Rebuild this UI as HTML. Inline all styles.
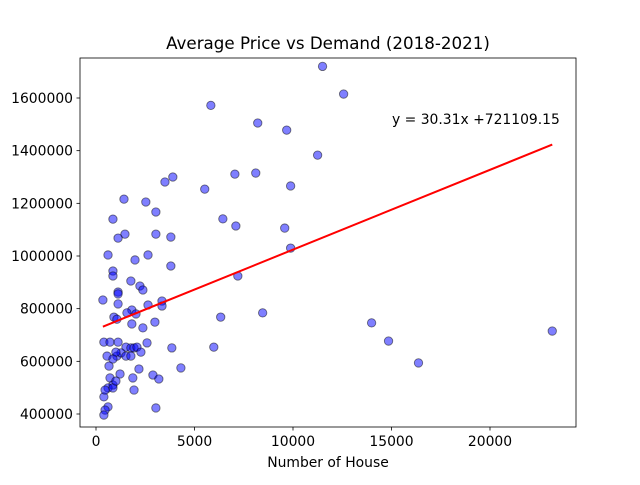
<!DOCTYPE html>
<html><head><meta charset="utf-8"><style>
body{margin:0;background:#fff;font-family:"Liberation Sans","DejaVu Sans",sans-serif}
svg text{font-family:"DejaVu Sans","Liberation Sans",sans-serif}
</style></head><body>
<svg id="chart" width="640" height="480" viewBox="0 0 640 480" xmlns="http://www.w3.org/2000/svg">
<rect width="640" height="480" fill="#fff"/>
<text x="328" y="49" font-size="16.7" text-anchor="middle">Average Price vs Demand (2018-2021)</text>
<text x="328" y="467" font-size="13.9" text-anchor="middle">Number of House</text>
<text x="392" y="124" font-size="13.9">y = 30.31x +721109.15</text>
<g id="plot"></g>
<rect x="80" y="58" width="496" height="369" fill="none" stroke="#000" stroke-width="0.8"/>
</svg>
<script>
const xTicks=[0,5000,10000,15000,20000];
const yTicks=[400000,600000,800000,1000000,1200000,1400000,1600000];
const houses=[11500,12570,5830,8210,9680,11250,3500,3900,5520,7050,8110,9880,1420,2530,3040,860,6440,7100,9580,9880,1470,1120,3040,3800,610,2640,1980,3800,860,860,7200,1770,2230,2380,1120,1120,350,1120,2640,3350,3350,1820,1570,2030,8460,910,1060,6330,1820,2990,2380,13990,23160,14850,400,710,1120,2590,1520,1770,1930,2080,3850,5980,560,1060,1270,1520,1770,2280,1010,860,660,4310,2180,16370,1220,2890,710,1870,3190,860,610,860,400,1930,460,610,460,400,3040,1010];
const prices=[1720000,1615000,1572000,1505000,1478000,1383000,1281000,1300000,1254000,1311000,1315000,1266000,1216000,1205000,1167000,1140000,1141000,1114000,1106000,1030000,1083000,1068000,1083000,1072000,1004000,1004000,985000,962000,943000,924000,924000,905000,886000,871000,863000,856000,833000,818000,814000,829000,810000,795000,784000,780000,784000,768000,760000,768000,742000,749000,727000,746000,715000,677000,673000,673000,673000,670000,654000,651000,651000,654000,651000,654000,620000,620000,632000,620000,620000,635000,635000,609000,582000,575000,571000,594000,552000,548000,537000,537000,533000,510000,499000,499000,465000,491000,491000,427000,415000,396000,423000,525000];
const slope=30.31, intercept=721109.15;
const X=v=>96+v*(394/20000);
const Y=v=>414-(v-400000)*(316/1200000);
const ns="http://www.w3.org/2000/svg";
const svg=document.getElementById('chart');
const g=document.getElementById('plot');
function mk(t,a,p){const e=document.createElementNS(ns,t);for(const k in a)e.setAttribute(k,a[k]);(p||g).appendChild(e);return e;}
xTicks.forEach(v=>{
 const l=mk('line',{x1:X(v),x2:X(v),y1:427,y2:430.5,stroke:'#000','stroke-width':0.8},svg);
 
 
 const t=mk('text',{x:X(v),y:446,'font-size':13.9,'text-anchor':'middle'},svg);t.textContent=v;
 
 
});
yTicks.forEach(v=>{
 const l=mk('line',{x1:76.5,x2:80,y1:Y(v),y2:Y(v),stroke:'#000','stroke-width':0.8},svg);
 
 
 const t=mk('text',{x:73,y:Y(v)+5,'font-size':13.9,'text-anchor':'end'},svg);t.textContent=v;
 
 
});
houses.forEach((h,i)=>{
 const c=mk('circle',{cx:X(h),cy:Y(prices[i]),r:4.2,fill:'rgba(0,0,255,0.5)',stroke:'rgba(0,0,0,0.5)','stroke-width':0.9});
 
 
});
const xmin=Math.min(...houses), xmax=Math.max(...houses);
const ln=mk('line',{x1:X(xmin),y1:Y(slope*xmin+intercept),x2:X(xmax),y2:Y(slope*xmax+intercept),stroke:'red','stroke-width':2});


</script>
</body></html>
